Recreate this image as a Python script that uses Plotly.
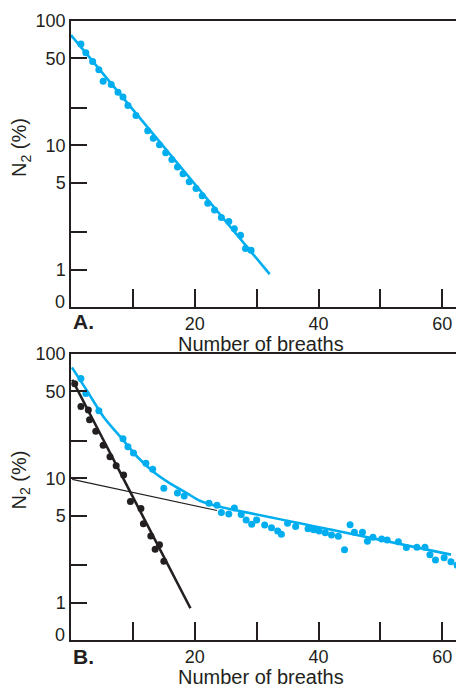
import numpy as np
import plotly.graph_objects as go

# panel A: single-compartment washout
a_dots_x = [1.6, 2.4, 3.5, 4.5, 5.2, 6.5, 7.6, 8.4, 9.2, 10.5, 12.4, 13.3, 14.3, 15.3,
            16.3, 17.2, 18.1, 19.1, 20.2, 21.2, 22.1, 23.2, 24.3, 25.5, 26.4, 27.4, 28.2, 29.1]
a_dots_y = [65.3, 55.6, 47.2, 40.5, 32.7, 30.8, 26.7, 24.5, 20.9, 17.4, 13.1, 11.4, 10.1, 8.7,
            7.7, 6.7, 5.9, 5.1, 4.5, 3.93, 3.42, 3.02, 2.62, 2.44, 2.13, 1.89, 1.48, 1.43]
a_fit_x = [0, 32.1]
a_fit_y = [77, 0.92]

# panel B: two-compartment washout
b_blue_x = [1.6, 2.4, 4.5, 8.4, 9.2, 10.1, 12.1, 13.2, 15.0, 17.2, 18.3, 22.3, 23.6, 24.3,
            25.5, 26.4, 27.5, 28.3, 29.2, 30.0, 31.3, 32.4, 33.4, 34.0, 35.0, 36.3, 38.3,
            39.2, 40.1, 41.1, 42.1, 43.2, 44.2, 45.1, 45.8, 47.1, 47.9, 48.8, 50.2, 51.1,
            52.9, 54.2, 55.9, 57.2, 58.0, 58.9, 60.3, 61.4, 62.4]
b_blue_y = [63.6, 48.1, 35.0, 20.8, 17.9, 16.0, 13.2, 11.8, 8.3, 7.6, 7.2, 6.3, 6.07, 5.3,
            5.15, 5.77, 5.12, 4.61, 4.26, 4.61, 4.2, 4.0, 3.77, 3.55, 4.34, 4.1, 3.93,
            3.86, 3.77, 3.65, 3.50, 3.42, 2.66, 4.23, 3.68, 3.68, 3.12, 3.36, 3.24, 3.18,
            3.08, 2.77, 2.79, 2.79, 2.43, 2.20, 2.29, 2.13, 2.0]
b_curve_x = [0.15, 2.6, 5.3, 8.0, 10.7, 13.3, 16.0, 18.7, 20.8, 22.4, 24.0, 42.7, 61.4]
b_curve_y = [78, 50.5, 31, 21.5, 14.9, 11.3, 9.1, 7.6, 6.6, 6.2, 5.9, 3.8, 2.43]

b_black_x = [0.6, 1.6, 2.8, 3.0, 4.0, 5.2, 6.3, 7.3, 8.5, 9.6, 11.3, 11.7, 12.9, 13.6, 14.3, 15.0]
b_black_y = [57.7, 37.7, 35.4, 29.5, 23.9, 18.4, 14.9, 12.6, 10.6, 6.5, 5.7, 4.3, 3.44, 2.69, 2.92, 2.15]
b_fast_x = [0.2, 19.3]
b_fast_y = [62, 0.9]
b_slow_x = [0.2, 23.6]
b_slow_y = [9.8, 5.5]

y_ticks = [1, 2, 5, 10, 20, 50, 100]
y_labels = ['1', '', '5', '10', '', '50', '100']
x_ticks = [10, 20, 30, 40, 50, 60]
x_labels = ['', '20', '', '40', '', '60']

BLUE = '#00aeef'
INK = '#231f20'
FONT = 'Liberation Sans, Arial, sans-serif'

fig = go.Figure()

fig.add_trace(go.Scatter(x=a_fit_x, y=a_fit_y, mode='lines',
                         line=dict(color=BLUE, width=2.6), xaxis='x', yaxis='y'))
fig.add_trace(go.Scatter(x=a_dots_x, y=a_dots_y, mode='markers',
                         marker=dict(color=BLUE, size=7), xaxis='x', yaxis='y'))

fig.add_trace(go.Scatter(x=b_slow_x, y=b_slow_y, mode='lines',
                         line=dict(color=INK, width=1.1), xaxis='x2', yaxis='y2'))
fig.add_trace(go.Scatter(x=b_curve_x, y=b_curve_y, mode='lines',
                         line=dict(color=BLUE, width=2.6, shape='spline', smoothing=0.9),
                         xaxis='x2', yaxis='y2'))
fig.add_trace(go.Scatter(x=b_blue_x, y=b_blue_y, mode='markers',
                         marker=dict(color=BLUE, size=7), xaxis='x2', yaxis='y2'))
fig.add_trace(go.Scatter(x=b_fast_x, y=b_fast_y, mode='lines',
                         line=dict(color=INK, width=2.6), xaxis='x2', yaxis='y2'))
fig.add_trace(go.Scatter(x=b_black_x, y=b_black_y, mode='markers',
                         marker=dict(color=INK, size=7), xaxis='x2', yaxis='y2'))

axis_common = dict(showline=True, mirror=True, linecolor=INK, linewidth=1.5,
                   ticks='inside', tickcolor=INK, tickwidth=1.5, showgrid=False,
                   zeroline=False, tickfont=dict(size=18, color=INK, family=FONT))
xax = dict(axis_common, range=[0, 62.7], tickvals=x_ticks, ticktext=x_labels, ticklen=18)
yax = dict(axis_common, type='log', range=[np.log10(0.5), 2], tickvals=y_ticks,
           ticktext=y_labels, ticklen=16)

# the page body adds an 8px offset, so the figure is 8px smaller on each side
fig.update_layout(
    width=456, height=683,
    margin=dict(l=63, r=3, t=6, b=51),
    paper_bgcolor='white', plot_bgcolor='white',
    showlegend=False,
    font=dict(family=FONT, color=INK),
    xaxis=dict(xax, domain=[0, 1], anchor='y'),
    yaxis=dict(yax, domain=[0.5379, 1], anchor='x'),
    xaxis2=dict(xax, domain=[0, 1], anchor='y2'),
    yaxis2=dict(yax, domain=[0, 0.4621], anchor='x2'),
)

for yref, lab_y, title_y, ytxt_y, letter in [('y', 0.5144, 0.4776, 0.796, 'A.'),
                                             ('y2', -0.0272, -0.0591, 0.2588, 'B.')]:
    fig.add_annotation(text='0', xref='paper', yref=yref, x=0, y=np.log10(0.547),
                       xanchor='right', yanchor='middle', xshift=-4, showarrow=False,
                       font=dict(size=18, color=INK, family=FONT))
    fig.add_annotation(text='<b>' + letter + '</b>', xref='paper', yref='paper', x=0, y=lab_y,
                       xanchor='left', yanchor='middle', showarrow=False,
                       font=dict(size=21, color=INK, family=FONT))
    fig.add_annotation(text='Number of breaths', xref='paper', yref='paper', x=0.49, y=title_y,
                       xanchor='center', yanchor='middle', showarrow=False,
                       font=dict(size=20, color=INK, family=FONT))
    fig.add_annotation(text='N<sub>2</sub> (%)', xref='paper', yref='paper', x=-0.1295,
                       y=ytxt_y, xanchor='center', yanchor='middle', textangle=-90,
                       showarrow=False, font=dict(size=20, color=INK, family=FONT))

fig.write_html("out.html")
